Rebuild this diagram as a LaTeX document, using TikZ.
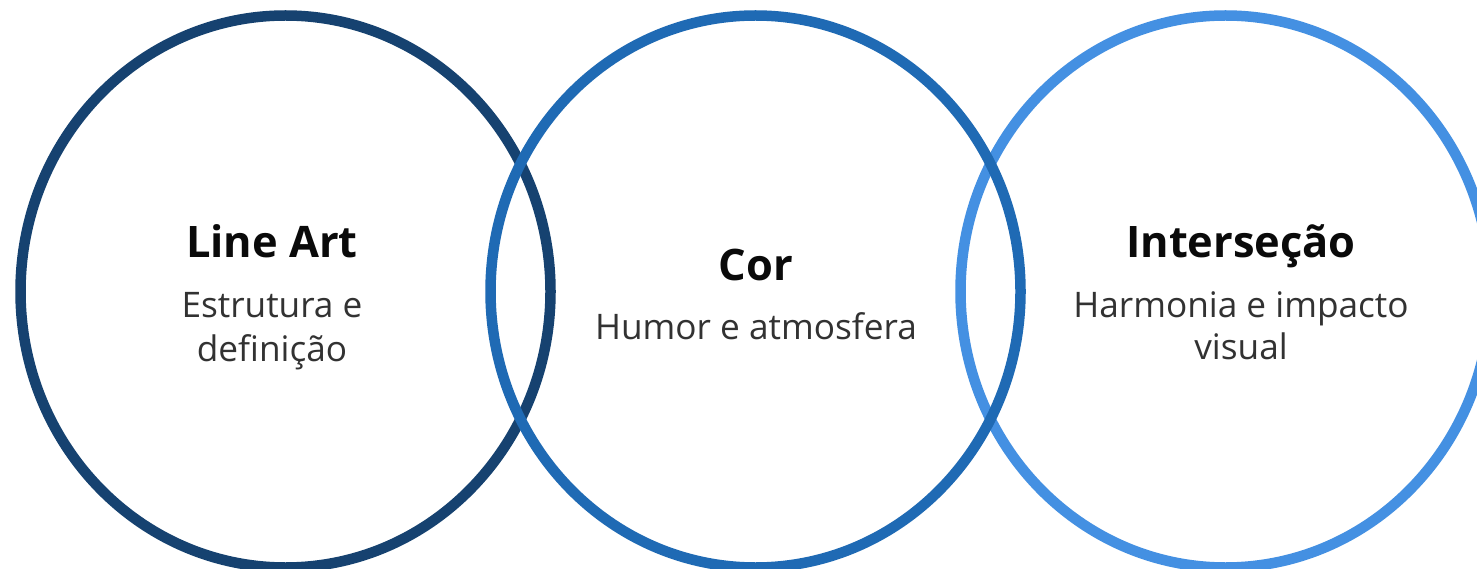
\documentclass[tikz,border=0pt]{standalone}
\usepackage{fontspec}
\setmainfont{Open Sans}
\definecolor{cone}{RGB}{22,66,112}
\definecolor{ctwo}{RGB}{31,106,180}
\definecolor{cthree}{RGB}{68,144,226}
\definecolor{ttitle}{RGB}{10,10,10}
\definecolor{tsub}{RGB}{50,50,50}
\begin{document}
\begin{tikzpicture}[x=1pt,y=1pt,
  ring/.style={line width=10.5pt},
  ttl/.style={anchor=base,inner sep=0pt,text=ttitle,font=\fontsize{43.4}{50}\selectfont\bfseries},
  sub/.style={anchor=base,inner sep=0pt,text=tsub,font=\fontsize{35.2}{42}\selectfont}]
\useasboundingbox (0,0) rectangle (1477,-569);
\fill[white] (0,0) rectangle (1477,-569);
\draw[ring,cone] (285.5,-291.5) ellipse [x radius=265, y radius=276];
\draw[ring,cthree] (1225.5,-291.5) ellipse [x radius=265, y radius=276];
\draw[ring,ctwo] (755.5,-291.5) ellipse [x radius=265, y radius=276];
\node[ttl] (t1) at (272,-258) {Line Art};
\node[sub] (s1a) at (272,-317) {Estrutura e};
\node[sub] (s1b) at (272,-361) {definição};
\node[ttl] (t2) at (756,-280) {Cor};
\node[sub] (s2a) at (756,-339) {Humor e atmosfera};
\node[ttl] (t3) at (1241,-258) {Interseção};
\node[sub] (s3a) at (1241,-317) {Harmonia e impacto};
\node[sub] (s3b) at (1241,-359) {visual};
\end{tikzpicture}
\end{document}
